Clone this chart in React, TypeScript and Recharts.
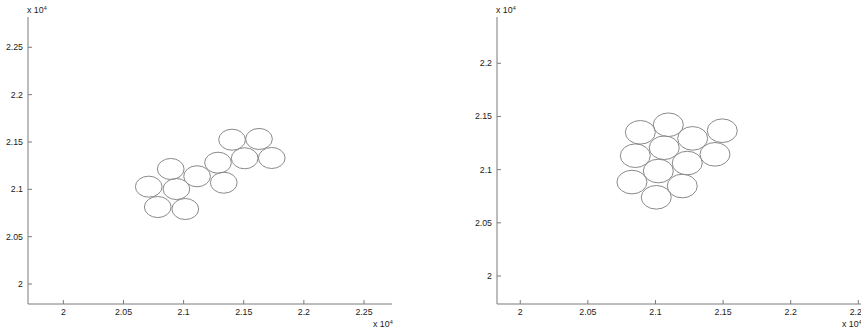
import React from 'react';
import { Scatter, ScatterChart, XAxis, YAxis } from 'recharts';

// circle centres in plot units (ticks show them divided by 10^4)
const leftX = [20710, 20893, 20940, 20785, 21014, 21112, 21286, 21334, 21403, 21508, 21627, 21733];
const leftY = [21028, 21215, 21003, 20813, 20792, 21138, 21281, 21070, 21524, 21328, 21532, 21331];
const rightX = [20888, 21095, 21275, 21494, 20851, 21065, 21440, 21021, 21235, 20826, 21198, 21006];
const rightY = [21351, 21422, 21294, 21366, 21131, 21206, 21144, 20987, 21062, 20883, 20846, 20740];
const circleRadius = 111;

const leftXTicks = [20000, 20500, 21000, 21500, 22000, 22500];
const leftYTicks = [20000, 20500, 21000, 21500, 22000, 22500];
const rightXTicks = [20000, 20500, 21000, 21500, 22000, 22500];
const rightYTicks = [20000, 20500, 21000, 21500, 22000];

const FONT = '"Liberation Sans", Arial, sans-serif';
const AXIS = '#7a7a7a';
const TEXT = '#222';
const CIRCLE = '#8a8a8a';
const H = 335;
const TOP = 17;
const XAXIS_H = 31;

const fmt = (v: number) => String(v / 10000);

const XTick = (props: any) => {
  const { x, y, payload } = props;
  return (
    <g>
      <line x1={x} y1={y} x2={x} y2={y - 4} stroke={AXIS} />
      <text x={x} y={y + 11} textAnchor="middle" fontSize={8.8} fontFamily={FONT} fill={TEXT}>
        {fmt(payload.value)}
      </text>
    </g>
  );
};

const YTick = (props: any) => {
  const { x, y, payload } = props;
  return (
    <g>
      <line x1={x} y1={y} x2={x + 4} y2={y} stroke={AXIS} />
      <text x={x - 5} y={y + 3} textAnchor="end" fontSize={8.8} fontFamily={FONT} fill={TEXT}>
        {fmt(payload.value)}
      </text>
    </g>
  );
};

interface PanelProps {
  xs: number[];
  ys: number[];
  width: number;
  yAxisWidth: number;
  rightMargin: number;
  xDomain: [number, number];
  yDomain: [number, number];
  xTicks: number[];
  yTicks: number[];
}

const Exponent = ({ left, top }: { left: number; top: number }) => (
  <div style={{ position: 'absolute', left, top, fontFamily: FONT, fontSize: 8.8, color: TEXT, whiteSpace: 'nowrap', lineHeight: '10px' }}>
    x 10<sup style={{ fontSize: 5.5, verticalAlign: 'top', position: 'relative', top: -2 }}>4</sup>
  </div>
);

const Panel = ({ xs, ys, width, yAxisWidth, rightMargin, xDomain, yDomain, xTicks, yTicks }: PanelProps) => {
  const data = xs.map((x, i) => ({ x, y: ys[i] }));
  const plotW = width - yAxisWidth - rightMargin;
  const plotH = H - TOP - XAXIS_H;
  const rx = (circleRadius * plotW) / (xDomain[1] - xDomain[0]);
  const ry = (circleRadius * plotH) / (yDomain[1] - yDomain[0]);

  return (
    <ScatterChart width={width} height={H} margin={{ top: TOP, right: rightMargin, bottom: 0, left: 0 }}>
      <XAxis
        type="number"
        dataKey="x"
        domain={xDomain}
        ticks={xTicks}
        interval={0}
        allowDataOverflow
        height={XAXIS_H}
        tickSize={0}
        tickMargin={0}
        tickLine={false}
        axisLine={{ stroke: AXIS }}
        tick={<XTick />}
      />
      <YAxis
        type="number"
        dataKey="y"
        domain={yDomain}
        ticks={yTicks}
        interval={0}
        allowDataOverflow
        width={yAxisWidth}
        tickSize={0}
        tickMargin={0}
        tickLine={false}
        axisLine={{ stroke: AXIS }}
        tick={<YTick />}
      />
      <Scatter
        data={data}
        isAnimationActive={false}
        shape={(p: any) => <ellipse cx={p.cx} cy={p.cy} rx={rx} ry={ry} fill="none" stroke={CIRCLE} strokeWidth={1} />}
      />
    </ScatterChart>
  );
};

export default function App() {
  return (
    <div style={{ position: 'fixed', left: 0, top: 0, width: 861, height: 335, background: '#fff', overflow: 'hidden' }}>
      <div style={{ position: 'absolute', left: 0, top: 0 }}>
        <Panel
          xs={leftX}
          ys={leftY}
          width={430}
          yAxisWidth={28}
          rightMargin={38}
          xDomain={[19706, 22733]}
          yDomain={[19789, 22820]}
          xTicks={leftXTicks}
          yTicks={leftYTicks}
        />
      </div>
      <div style={{ position: 'absolute', left: 430, top: 0 }}>
        <Panel
          xs={rightX}
          ys={rightY}
          width={431}
          yAxisWidth={67}
          rightMargin={0}
          xDomain={[19828, 22520]}
          yDomain={[19737, 22435]}
          xTicks={rightXTicks}
          yTicks={rightYTicks}
        />
      </div>
      <Exponent left={27} top={5} />
      <Exponent left={373} top={319} />
      <Exponent left={496} top={5} />
      <Exponent left={842} top={319} />
    </div>
  );
}
